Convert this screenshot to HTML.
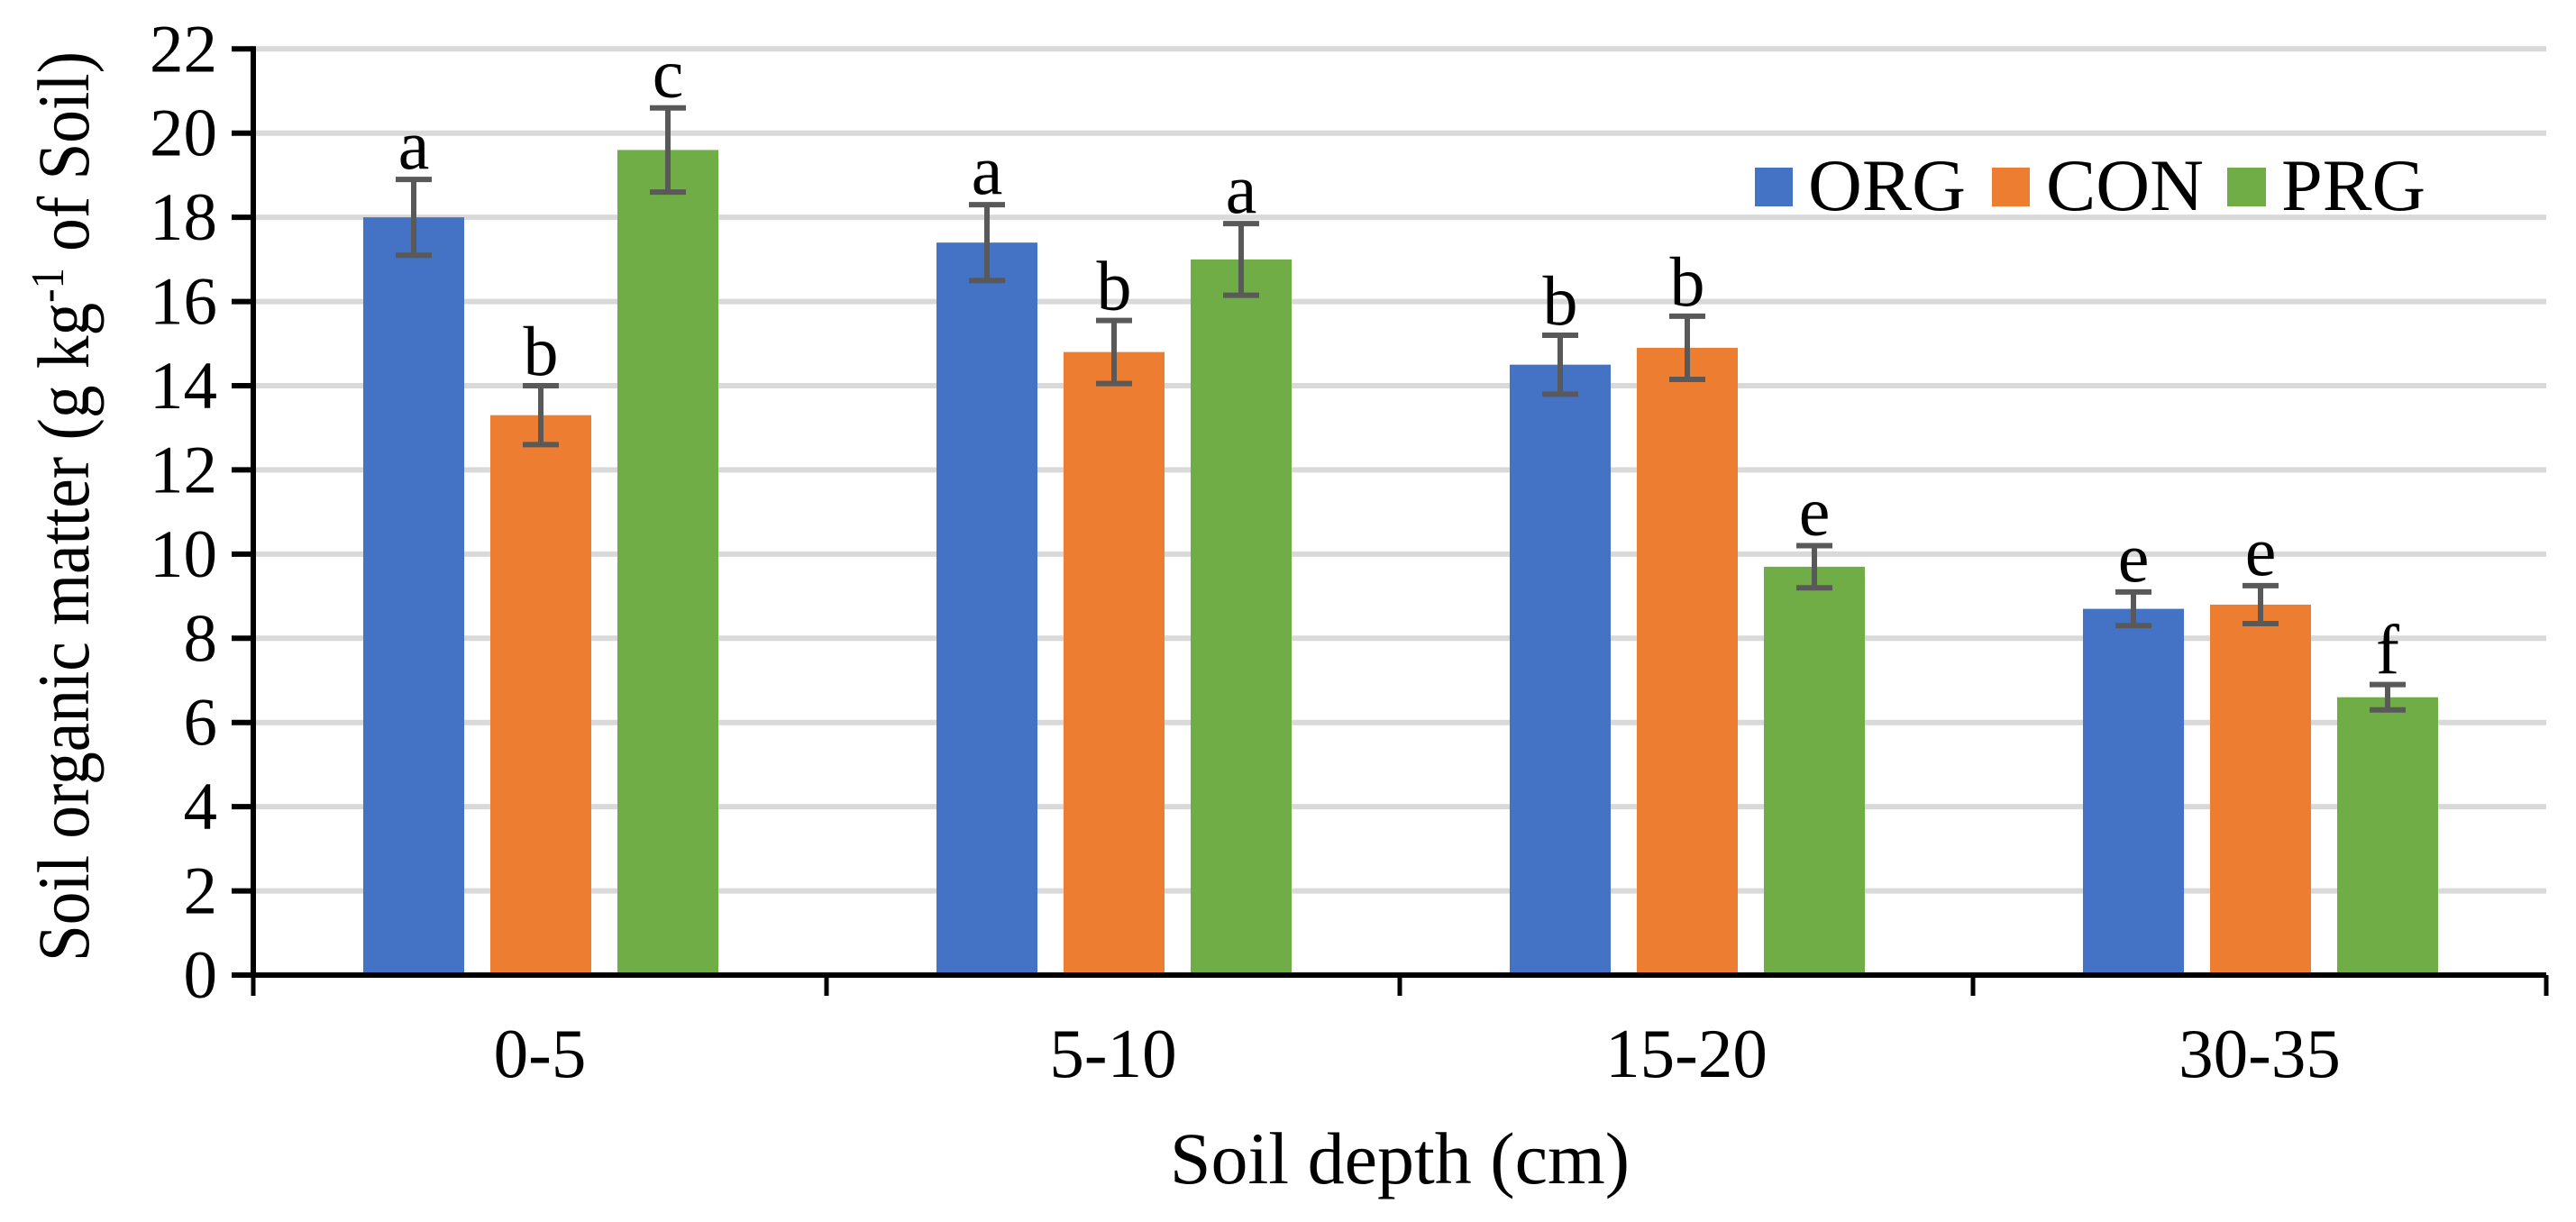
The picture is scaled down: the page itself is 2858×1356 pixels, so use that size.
<!DOCTYPE html>
<html><head><meta charset="utf-8"><style>
html,body{margin:0;padding:0;background:#fff;}
svg{display:block;font-family:"Liberation Serif","Times New Roman",serif;}
</style></head><body>
<svg id="chart" width="2858" height="1356" viewBox="0 0 2858 1356" xmlns="http://www.w3.org/2000/svg">
<g id="grid"></g>
<g id="bars"></g>
<g id="axes"></g>
<text transform="translate(98,562) rotate(-90)" text-anchor="middle" font-size="82" textLength="1010" lengthAdjust="spacingAndGlyphs">Soil organic matter (g kg<tspan font-size="52" dy="-28">-1</tspan><tspan dy="28"> of Soil)</tspan></text>
<text x="1553" y="1313" text-anchor="middle" font-size="82">Soil depth (cm)</text>
<g>
<rect x="1947" y="186" width="42" height="43" fill="#4472c4"/>
<text x="2006" y="233" font-size="82" textLength="175" lengthAdjust="spacingAndGlyphs">ORG</text>
<rect x="2210" y="186" width="42" height="43" fill="#ed7d31"/>
<text x="2270" y="233" font-size="82" textLength="175" lengthAdjust="spacingAndGlyphs">CON</text>
<rect x="2471" y="186" width="43" height="43" fill="#70ad47"/>
<text x="2531" y="233" font-size="82" textLength="160" lengthAdjust="spacingAndGlyphs">PRG</text>
</g>
</svg>
<script>
const categories = ["0-5","5-10","15-20","30-35"];
const orgValues = [18.0, 17.4, 14.5, 8.7];
const conValues = [13.3, 14.8, 14.9, 8.8];
const prgValues = [19.6, 17.0, 9.7, 6.6];
const orgErrors = [0.9, 0.9, 0.7, 0.4];
const conErrors = [0.7, 0.75, 0.75, 0.45];
const prgErrors = [1.0, 0.85, 0.5, 0.3];
const orgLetters = ["a","a","b","e"];
const conLetters = ["b","b","b","e"];
const prgLetters = ["c","a","e","f"];
const yTicks = [0,2,4,6,8,10,12,14,16,18,20,22];

const NS="http://www.w3.org/2000/svg";
const X0=281, X1=2825, Y0=1082, Y22=54.3;
const catW=(X1-X0)/categories.length;
function yScale(v){return Y0-(v/22)*(Y0-Y22);}
function xCat(i){return X0+catW*i;}
function mk(tag,attrs,parent){const e=document.createElementNS(NS,tag);for(const k in attrs)e.setAttribute(k,attrs[k]);parent.appendChild(e);return e;}
const grid=document.getElementById('grid'),bars=document.getElementById('bars'),axes=document.getElementById('axes');
yTicks.forEach(t=>{
  if(t>0){const g=mk('line',{x1:X0,x2:X1,y1:yScale(t),y2:yScale(t),stroke:'#d9d9d9','stroke-width':6},grid);
  
  }
  const tk=mk('line',{x1:X0-24,x2:X0,y1:yScale(t),y2:yScale(t),stroke:'#000','stroke-width':6},axes);
  
  
  const lb=mk('text',{x:X0-40,y:yScale(t)+25,'text-anchor':'end','font-size':75},axes);
  lb.textContent=t;
  
  
});
const series=[{n:'org',v:orgValues,e:orgErrors,l:orgLetters,c:'#4472c4',off:122},
{n:'con',v:conValues,e:conErrors,l:conLetters,c:'#ed7d31',off:263},
{n:'prg',v:prgValues,e:prgErrors,l:prgLetters,c:'#70ad47',off:404}];
const bw=112;
categories.forEach((c,i)=>{
  series.forEach(s=>{
    const x=xCat(i)+s.off, v=s.v[i], y=yScale(v);
    const r=mk('rect',{x:x,y:y,width:bw,height:Y0-y,fill:s.c},bars);
    
    
    const cx=x+bw/2, yt=yScale(v+s.e[i]), yb=yScale(v-s.e[i]);
    const eb=mk('path',{d:`M${cx},${yt}V${yb}M${cx-20},${yt}H${cx+20}M${cx-20},${yb}H${cx+20}`,stroke:'#595959','stroke-width':6,fill:'none'},bars);
    
    
    const lt=mk('text',{x:cx,y:yt-12,'text-anchor':'middle','font-size':78},bars);
    lt.textContent=s.l[i];
    
    
  });
  const xl=mk('text',{x:xCat(i)+catW/2,y:1195,'text-anchor':'middle','font-size':77},axes);
  xl.textContent=c;
  
  
});
for(let i=0;i<=categories.length;i++){
  const t=mk('line',{x1:xCat(i),x2:xCat(i),y1:Y0,y2:Y0+23,stroke:'#000','stroke-width':5},axes);
  
  
}
const ya=mk('line',{x1:X0,x2:X0,y1:Y22-3,y2:Y0+3,stroke:'#000','stroke-width':6},axes);


const xa=mk('line',{x1:X0-24,x2:X1,y1:Y0,y2:Y0,stroke:'#000','stroke-width':6},axes);


</script>
</body></html>
